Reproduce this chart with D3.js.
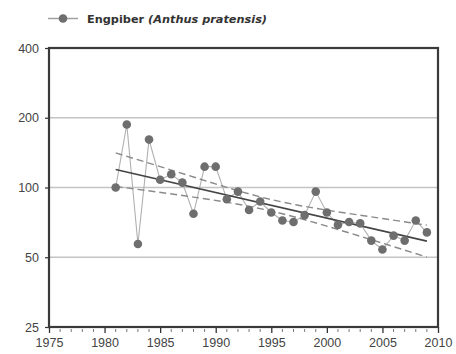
<!DOCTYPE html>
<html><head><meta charset="utf-8">
<script src="https://cdn.jsdelivr.net/npm/d3@7"></script>
<style>body{margin:0;background:#fff}svg{display:block}</style>
</head><body>
<svg id="c" width="456" height="354"></svg>
<script>
const years = [1981,1982,1983,1984,1985,1986,1987,1988,1989,1990,1991,1992,1993,1994,1995,1996,1997,1998,1999,2000,2001,2002,2003,2004,2005,2006,2007,2008,2009];
const values = [100,187,57,161,108,114,105,77,123,123,89,96,80,87,78,72,71,76,96,78,69,71,70,59,54,62,59,72,64];
const trendYears = [1981,2009];
const trendValues = [119.5,58.7];
const bandYears = [1981,1988,1995,2002,2009];
const upperValues = [141,111,88.7,77.2,68.8];
const lowerValues = [101,90.9,79.1,63.7,50.1];
const xTicks = [1975,1980,1985,1990,1995,2000,2005,2010];
const yTicks = [25,50,100,200,400];
const seriesLabel = "Engpiber";
const seriesLatin = "(Anthus pratensis)";

const svg = d3.select("#c");
const L=49,R=438,T=48,B=327;
const x = d3.scaleLinear().domain([1975,2010]).range([L,R]);
const y = d3.scaleLog().domain([25,400]).range([B,T]);

// gridlines
svg.append("g").selectAll("line").data(yTicks.filter(v=>v>25&&v<400)).join("line")
  .attr("x1",L).attr("x2",R).attr("y1",d=>y(d)).attr("y2",d=>y(d))
  .attr("stroke","#c4c4c4").attr("stroke-width",1.6);

// y axis ticks & labels
const yAxis = d3.axisLeft(y).tickValues(yTicks).tickFormat(d3.format("d")).tickSize(4).tickPadding(6);
const ya = svg.append("g").attr("transform",`translate(${L},0)`).call(yAxis);
ya.select(".domain").remove();
ya.selectAll("line").attr("stroke","#333").attr("stroke-width",1.2);
ya.selectAll("text").attr("font-family","Liberation Sans, Arial, sans-serif").attr("font-size",12.5).attr("fill","#444");

// x axis
const xAxis = d3.axisBottom(x).tickValues(xTicks).tickFormat(d3.format("d")).tickSize(6).tickPadding(5);
const xa = svg.append("g").attr("transform",`translate(0,${B})`).call(xAxis);
xa.select(".domain").remove();
xa.selectAll("line").attr("stroke","#333").attr("stroke-width",1.3);
xa.selectAll("text").attr("font-family","Liberation Sans, Arial, sans-serif").attr("font-size",12.5).attr("fill","#444");
// minor ticks
const minor = d3.range(1975,2011).filter(v=>v%5!==0);
svg.append("g").selectAll("line").data(minor).join("line")
  .attr("x1",d=>x(d)).attr("x2",d=>x(d)).attr("y1",B+2).attr("y2",B+5)
  .attr("stroke","#777").attr("stroke-width",1);

// frame
svg.append("rect").attr("x",L).attr("y",T).attr("width",R-L).attr("height",B-T)
  .attr("fill","none").attr("stroke","#3a3a3a").attr("stroke-width",2.2);

// data line
const pts = years.map((yr,i)=>[yr,values[i]]);
svg.append("path").datum(pts)
  .attr("d",d3.line().x(d=>x(d[0])).y(d=>y(d[1])))
  .attr("fill","none").attr("stroke","#b0b0b0").attr("stroke-width",1.1);

// confidence bands
const band = (vals)=>bandYears.map((yr,i)=>[yr,vals[i]]);
const bl = d3.line().x(d=>x(d[0])).y(d=>y(d[1])).curve(d3.curveNatural);
[upperValues,lowerValues].forEach(v=>{
  svg.append("path").datum(band(v)).attr("d",bl)
    .attr("fill","none").attr("stroke","#8a8a8a").attr("stroke-width",1.4)
    .attr("stroke-dasharray","7,4");
});
// trend
svg.append("path").datum(trendYears.map((yr,i)=>[yr,trendValues[i]]))
  .attr("d",d3.line().x(d=>x(d[0])).y(d=>y(d[1])))
  .attr("fill","none").attr("stroke","#444").attr("stroke-width",1.6);

// points
svg.append("g").selectAll("circle").data(pts).join("circle")
  .attr("cx",d=>x(d[0])).attr("cy",d=>y(d[1])).attr("r",4.3)
  .attr("fill","#6e6e6e");

// legend
svg.append("line").attr("x1",48).attr("x2",78).attr("y1",18.5).attr("y2",18.5)
  .attr("stroke","#a0a0a0").attr("stroke-width",1.5);
svg.append("circle").attr("cx",63).attr("cy",18.5).attr("r",4.3).attr("fill","#6e6e6e");
const t = svg.append("text").attr("x",87).attr("y",22.5)
  .attr("font-family","DejaVu Sans, sans-serif").attr("font-size",11.3)
  .attr("font-weight","bold").attr("fill","#333");
t.append("tspan").text(seriesLabel+" ");
t.append("tspan").attr("font-style","italic").text(seriesLatin);
</script>
</body></html>
